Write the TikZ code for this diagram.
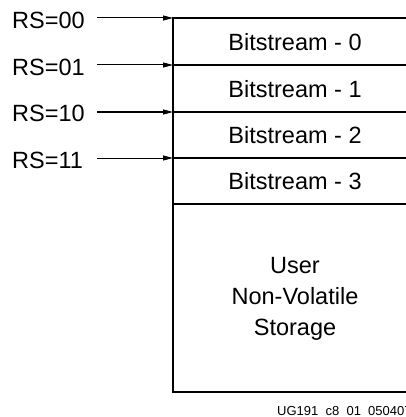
\documentclass[tikz,border=0pt]{standalone}
\usepackage{fontspec}
\setmainfont{Liberation Sans}
\usetikzlibrary{arrows.meta}
\begin{document}
\begin{tikzpicture}[x=1pt,y=-1pt,
  boxline/.style={line width=2.6pt},
  rsarrow/.style={line width=1pt,-{Triangle[length=10pt,width=5pt]}},
  rslabel/.style={anchor=west,inner sep=0pt,font=\fontsize{23.5}{27}\selectfont},
  bslabel/.style={inner sep=0pt,font=\fontsize{23.5}{27}\selectfont},
]
\useasboundingbox (0,0) rectangle (405,417);
% box
\coordinate (tl) at (173,18);
\coordinate (bl) at (173,392);
\draw[boxline] (420,18) -- (tl) -- (bl) -- (420,392);
\foreach \y/\n in {65/a,112/b,158/c,204/d}{
  \coordinate (L\n) at (173,\y);
  \draw[boxline] (L\n) -- (420,\y);
}
\coordinate (L0) at (173,18);
% bitstream labels
\node[bslabel] (b0) at (295,42) {Bitstream - 0};
\node[bslabel] (b1) at (295,89) {Bitstream - 1};
\node[bslabel] (b2) at (295,135) {Bitstream - 2};
\node[bslabel] (b3) at (295,181) {Bitstream - 3};
\node[bslabel,align=center,font=\fontsize{23.5}{31}\selectfont] (us) at (295,299) {User\\Non-Volatile\\Storage};
% RS labels
\node[rslabel] (r0) at (12,20) {RS=00};
\node[rslabel] (r1) at (12,67) {RS=01};
\node[rslabel] (r2) at (12,113) {RS=10};
\node[rslabel] (r3) at (12,160) {RS=11};
\coordinate (s0) at (97,18);
\coordinate (s1) at (97,65);
\coordinate (s2) at (97,112);
\coordinate (s3) at (97,158);
\draw[rsarrow] (s0) -- (L0);
\draw[rsarrow] (s1) -- (La);
\draw[rsarrow] (s2) -- (Lb);
\draw[rsarrow] (s3) -- (Lc);
% footer
\node[anchor=west,inner sep=0pt,font=\fontsize{13}{15}\selectfont] (id) at (277,411) {UG191\ \ c8\ \ 01\ \ 050407};
\end{tikzpicture}
\end{document}
